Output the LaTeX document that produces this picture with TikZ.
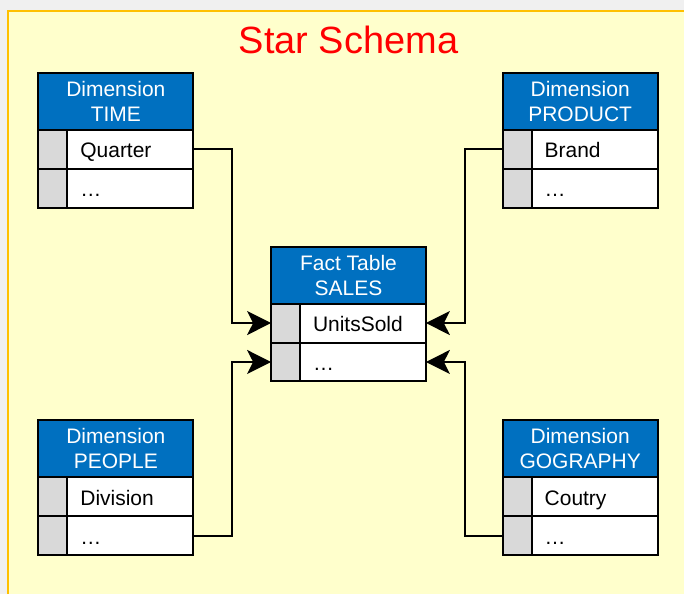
\documentclass[tikz,border=0pt]{standalone}
\usepackage{fontspec}
\setmainfont{Liberation Sans}
\usepackage{tikz}
\usetikzlibrary{arrows.meta,positioning,calc}

\definecolor{paper}{RGB}{255,255,204}
\definecolor{frame}{RGB}{255,192,0}
\definecolor{hdrblue}{RGB}{0,112,192}
\definecolor{keygray}{RGB}{217,217,217}

\tikzset{
  hdr/.style={draw,line width=1pt,fill=hdrblue,text=white,outer sep=0pt,
    minimum width=77.5pt,minimum height=28.5pt,inner sep=0pt,align=center,
    font=\fontsize{10.5}{12.5}\selectfont},
  keycell/.style={draw,line width=1pt,fill=keygray,outer sep=0pt,
    minimum width=14.5pt,minimum height=19.5pt,inner sep=0pt},
  fieldcell/.style={draw,line width=1pt,fill=white,outer sep=0pt,
    minimum width=63pt,minimum height=19.5pt,inner sep=0pt,text width=50pt,
    text height=9.5pt,text depth=1pt,
    align=left,font=\fontsize{10.5}{12.5}\selectfont},
  link/.style={line width=1pt,-{Stealth[length=12pt,width=12pt,inset=3pt]}}
}

\begin{document}
\begin{tikzpicture}[x=0.5pt,y=-0.5pt]
    % page and frame
    \fill[black!6] (0,0) rectangle (685,595);
    \fill[paper] (8,11) rectangle (685,595);
    \draw[frame,line width=1pt] (8,595) -- (8,11) -- (685,11);
    \useasboundingbox (0,0) rectangle (685,595);

    \node[text=red,font=\fontsize{19}{22}\selectfont] (title) at (349,40)
      {Star Schema};

    % dimension TIME
    \node[hdr] (time) at (116,101.5) {Dimension\\TIME};
    \node[keycell,anchor=north west] (timek1) at (time.south west) {};
    \node[fieldcell,right=0pt of timek1] (timef1) {Quarter};
    \node[keycell,below=0pt of timek1] (timek2) {};
    \node[fieldcell,right=0pt of timek2] (timef2) {\dots};

    % dimension PRODUCT
    \node[hdr] (product) at (581,101.5) {Dimension\\PRODUCT};
    \node[keycell,anchor=north west] (prodk1) at (product.south west) {};
    \node[fieldcell,right=0pt of prodk1] (prodf1) {Brand};
    \node[keycell,below=0pt of prodk1] (prodk2) {};
    \node[fieldcell,right=0pt of prodk2] (prodf2) {\dots};

    % fact table
    \node[hdr] (sales) at (349,275.5) {Fact Table\\SALES};
    \node[keycell,anchor=north west] (salesk1) at (sales.south west) {};
    \node[fieldcell,right=0pt of salesk1] (salesf1) {UnitsSold};
    \node[keycell,below=0pt of salesk1] (salesk2) {};
    \node[fieldcell,right=0pt of salesk2] (salesf2) {\dots};

    % dimension PEOPLE
    \node[hdr] (people) at (116,449.5) {Dimension\\PEOPLE};
    \node[keycell,anchor=north west] (peoplek1) at (people.south west) {};
    \node[fieldcell,right=0pt of peoplek1] (peoplef1) {Division};
    \node[keycell,below=0pt of peoplek1] (peoplek2) {};
    \node[fieldcell,right=0pt of peoplek2] (peoplef2) {\dots};

    % dimension GOGRAPHY
    \node[hdr] (geo) at (581,449.5) {Dimension\\GOGRAPHY};
    \node[keycell,anchor=north west] (geok1) at (geo.south west) {};
    \node[fieldcell,right=0pt of geok1] (geof1) {Coutry};
    \node[keycell,below=0pt of geok1] (geok2) {};
    \node[fieldcell,right=0pt of geok2] (geof2) {\dots};

    % links
    \draw[link] (timef1.east) -- ++(39,0) |- (salesk1.west);
    \draw[link] (prodk1.west) -- ++(-38,0) |- (salesf1.east);
    \draw[link] (peoplef2.east) -- ++(39,0) |- (salesk2.west);
    \draw[link] (geok2.west) -- ++(-38,0) |- (salesf2.east);
\end{tikzpicture}
\end{document}
